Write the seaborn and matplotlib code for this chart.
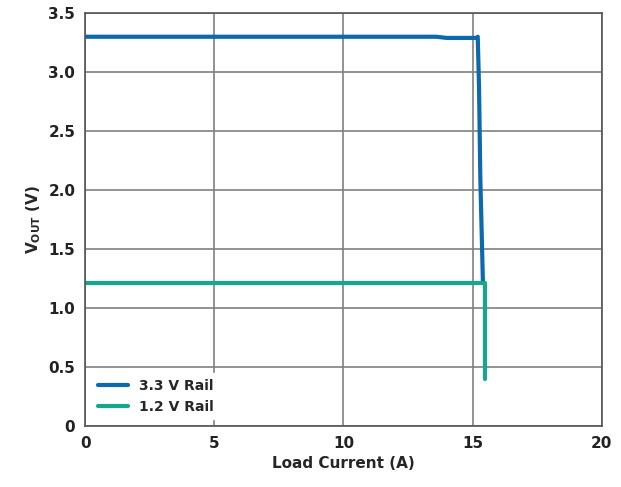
import matplotlib.pyplot as plt
import seaborn as sns

sns.set_style("white")

# 3.3 V rail
i_33 = [0, 5, 10, 13.6, 14.0, 15.15, 15.2, 15.25, 15.3, 15.4]
v_33 = [3.30, 3.30, 3.30, 3.30, 3.29, 3.29, 3.30, 2.87, 2.1, 1.22]
# 1.2 V rail
i_12 = [0, 5, 10, 15.45, 15.5, 15.5]
v_12 = [1.21, 1.21, 1.21, 1.21, 1.21, 0.40]

fig = plt.figure(figsize=(6.21, 4.87), dpi=100)
ax = fig.add_axes([0.137, 0.125, 0.832, 0.848])
for (x, y, c, lab) in [(i_33, v_33, "#0a6aad", "3.3 V Rail"), (i_12, v_12, "#13a88a", "1.2 V Rail")]:
    sns.lineplot(x=x, y=y, sort=False, estimator=None, color=c, linewidth=3, label=lab, ax=ax)

ax.set_xlim(0, 20)
ax.set_ylim(0, 3.5)
ax.set_xticks([0, 5, 10, 15, 20])
ax.set_yticks([0, 0.5, 1.0, 1.5, 2.0, 2.5, 3.0, 3.5])
ax.set_yticklabels(["0", "0.5", "1.0", "1.5", "2.0", "2.5", "3.0", "3.5"])
ax.grid(True, color="#808080", linewidth=1.2)
for s in ax.spines.values():
    s.set_color("#555555")
    s.set_linewidth(1.2)
ax.tick_params(labelsize=11, colors="#222222")
for t in ax.get_xticklabels() + ax.get_yticklabels():
    t.set_fontweight("bold")
ax.set_xlabel("Load Current (A)", fontsize=11, fontweight="bold")
ax.set_ylabel(r"V$_{\mathregular{OUT}}$ (V)", fontsize=11, fontweight="bold")
leg = ax.legend(loc="lower left", frameon=True, handlelength=2.2,
                prop={"weight": "bold", "size": 10})
leg.get_frame().set_edgecolor("white")
leg.get_frame().set_alpha(1)
fig.savefig("out.png", dpi=100)
